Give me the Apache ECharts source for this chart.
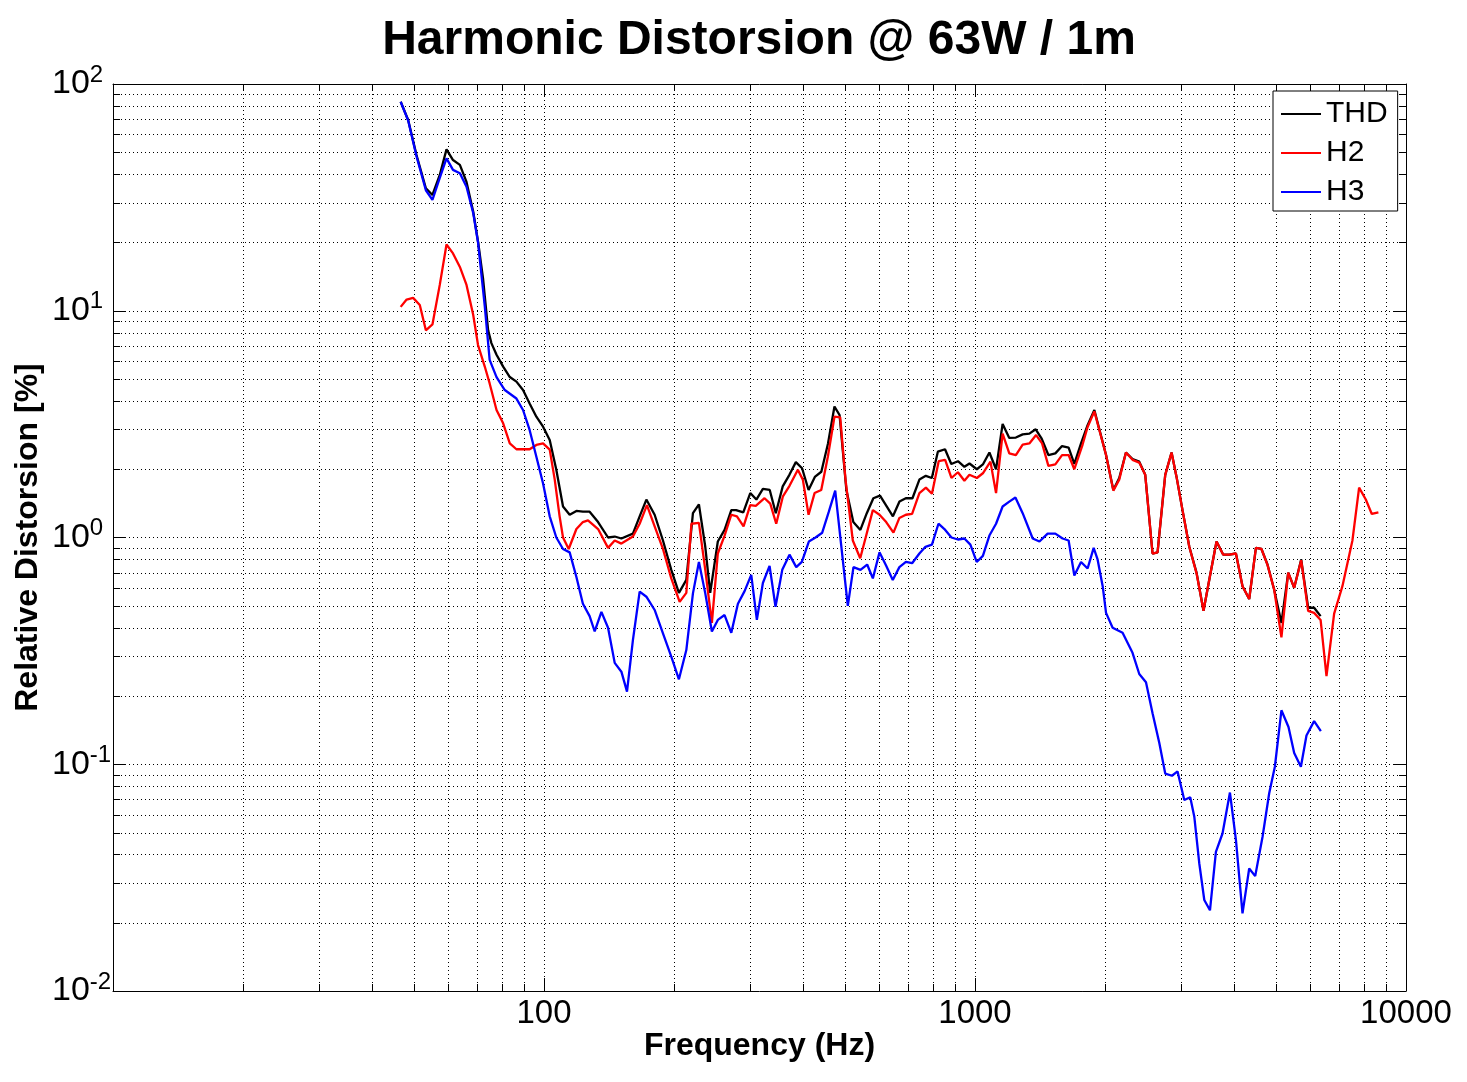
<!DOCTYPE html>
<html><head><meta charset="utf-8">
<script src="https://cdn.jsdelivr.net/npm/echarts@6/dist/echarts.min.js"></script>
<style>html,body{margin:0;padding:0;background:#fff}#c{width:1467px;height:1082px}</style>
</head><body><div id="c"></div>
<script>
const FONT = "'Liberation Sans', Arial, Helvetica, sans-serif";

const thd = [[46.5,83.5],[48.4,69.4],[50.6,48.6],[53.2,34.7],[55.1,32.4],[57.3,39.7],[59.4,51.5],[61.5,46.2],[63.8,44],[66.1,37],[68.5,27.4],[70.3,20.2],[72.2,13.9],[74.2,8.2],[75.5,7.2],[77.6,6.4],[80.4,5.67],[83.3,5.1],[86.3,4.87],[89.4,4.47],[92.6,3.9],[96.0,3.41],[99.5,3.08],[103.1,2.69],[106.8,1.99],[110.7,1.37],[114.7,1.26],[118.9,1.31],[123.1,1.3],[127.6,1.3],[133.5,1.17],[140.8,1.0],[145.9,1.01],[151.2,0.99],[160.8,1.04],[166.7,1.24],[172.8,1.47],[180.6,1.26],[188.8,0.97],[197.4,0.72],[205.6,0.57],[213.9,0.65],[221.6,1.28],[228.8,1.4],[236.7,0.91],[243,0.57],[253.1,0.96],[262.4,1.08],[272,1.32],[279,1.32],[290,1.29],[301,1.57],[311,1.47],[322,1.64],[334,1.62],[345,1.28],[358,1.68],[371,1.89],[384,2.15],[397,2.02],[411,1.62],[425,1.85],[440,1.95],[456,2.6],[472,3.78],[485,3.47],[503,1.62],[522,1.17],[542,1.08],[561,1.28],[581,1.49],[602,1.53],[645,1.24],[668,1.44],[691,1.49],[716,1.49],[743,1.8],[769,1.87],[794,1.83],[820,2.39],[852,2.45],[881,2.11],[913,2.17],[945,2.05],[971,2.12],[1010,2.0],[1043,2.1],[1080,2.37],[1119,2.0],[1159,3.17],[1201,2.75],[1244,2.76],[1290,2.85],[1337,2.87],[1383,3.0],[1428,2.73],[1480,2.31],[1536,2.35],[1592,2.53],[1649,2.49],[1700,2.11],[1762,2.6],[1825,3.13],[1892,3.65],[1943,3.0],[2014,2.31],[2094,1.62],[2161,1.83],[2240,2.37],[2320,2.22],[2405,2.16],[2483,1.89],[2582,0.85],[2652,0.86],[2763,1.89],[2858,2.37],[2935,1.85],[3030,1.32],[3142,0.91],[3266,0.7],[3390,0.475],[3495,0.65],[3634,0.96],[3767,0.84],[3890,0.84],[4031,0.85],[4175,0.61],[4327,0.535],[4485,0.9],[4620,0.89],[4771,0.76],[4944,0.59],[5140,0.42],[5330,0.7],[5503,0.6],[5712,0.8],[5929,0.49],[6121,0.49],[6337,0.45]];

const h2 = [[46.5,10.4],[48.0,11.2],[49.7,11.4],[51.5,10.6],[53.2,8.2],[55.1,8.7],[57.3,13],[59.4,19.6],[61.5,17.9],[63.8,15.6],[66.1,13],[68.5,9.6],[70.3,7.06],[72.9,5.66],[74.8,4.78],[77.6,3.65],[80.4,3.19],[83.3,2.6],[86.3,2.45],[89.4,2.45],[92.6,2.45],[96,2.56],[99.5,2.6],[103.1,2.44],[105.9,1.8],[108.7,1.24],[110.7,1.0],[114.1,0.89],[118.9,1.09],[123.1,1.17],[126.5,1.19],[133.5,1.09],[140.8,0.9],[145.9,0.97],[151.2,0.94],[160.8,1.01],[166.7,1.15],[173.3,1.39],[180.6,1.12],[188.8,0.89],[197.4,0.66],[206.4,0.52],[213.9,0.57],[219.8,1.15],[228.8,1.16],[236.7,0.72],[245.2,0.42],[253.1,0.85],[262.4,1.02],[272,1.26],[280.3,1.24],[290.4,1.12],[301,1.39],[310,1.38],[324.9,1.49],[334.9,1.41],[345.8,1.15],[358.4,1.52],[371.2,1.69],[388.1,1.99],[398.6,1.8],[411,1.26],[424.4,1.57],[439.8,1.62],[455.6,2.27],[472,3.41],[486.7,3.39],[500.7,1.8],[520.6,0.97],[541.6,0.81],[559.2,1.02],[579.4,1.32],[600.4,1.26],[622.2,1.17],[646.9,1.05],[667.7,1.22],[691.3,1.26],[714.6,1.27],[743,1.57],[769.3,1.66],[794.5,1.56],[823.7,2.17],[852.6,2.2],[881.7,1.83],[912.8,1.94],[944.9,1.78],[970.7,1.89],[1010,1.83],[1043,1.92],[1086,2.16],[1119,1.57],[1159,2.87],[1201,2.35],[1244,2.31],[1290,2.57],[1337,2.6],[1386,2.83],[1431,2.6],[1480,2.07],[1536,2.1],[1592,2.31],[1649,2.31],[1700,2.0],[1777,2.57],[1825,3.07],[1892,3.6],[1943,2.98],[2014,2.31],[2094,1.61],[2161,1.8],[2240,2.37],[2320,2.2],[2405,2.14],[2483,1.89],[2582,0.85],[2652,0.86],[2763,1.89],[2858,2.37],[2935,1.85],[3030,1.32],[3142,0.91],[3266,0.695],[3390,0.475],[3495,0.65],[3634,0.96],[3767,0.84],[3890,0.84],[4031,0.85],[4175,0.61],[4327,0.535],[4485,0.9],[4620,0.89],[4771,0.757],[4944,0.59],[5140,0.363],[5330,0.7],[5503,0.6],[5712,0.794],[5929,0.475],[6121,0.465],[6337,0.433],[6539,0.245],[6812,0.462],[7120,0.61],[7511,0.97],[7784,1.66],[8067,1.47],[8330,1.27],[8629,1.29]];

const h3 = [[46.5,83.5],[48.4,69],[50.6,48],[53.2,34],[55.1,30.8],[57.3,38.5],[59.4,47],[61.5,41.8],[63.8,40.4],[66.1,35.2],[68.5,27],[70.3,20],[72.9,10.4],[74.8,6.07],[77.6,5.1],[81.1,4.47],[86.3,4.1],[89.4,3.65],[92.6,2.98],[96,2.27],[99.5,1.73],[103.1,1.24],[106.8,1.0],[110.7,0.89],[114.7,0.86],[118.9,0.67],[123.1,0.51],[127.6,0.45],[131.1,0.385],[135.9,0.47],[140.8,0.40],[145.9,0.28],[151.2,0.256],[155.8,0.209],[160.8,0.353],[166.7,0.577],[172.8,0.548],[180.6,0.479],[188.8,0.378],[197.4,0.298],[205.6,0.237],[213.9,0.319],[221.6,0.567],[228.8,0.78],[236.7,0.567],[245.2,0.385],[253.1,0.433],[262.4,0.455],[272,0.38],[281.8,0.51],[292,0.58],[302.6,0.684],[311.8,0.433],[322,0.63],[333.7,0.75],[344.5,0.495],[357.1,0.72],[371.2,0.84],[384.8,0.74],[396.5,0.78],[411.6,0.96],[426.6,1.0],[442.1,1.05],[458,1.3],[473.9,1.61],[506.9,0.5],[522.4,0.74],[542.4,0.72],[562.1,0.76],[579.4,0.66],[600.4,0.86],[622.2,0.75],[644.4,0.65],[667.7,0.74],[691.3,0.78],[714.6,0.77],[743,0.85],[767.4,0.91],[794.5,0.93],[822.6,1.15],[849.3,1.09],[881.7,1.0],[912.8,0.98],[944.9,0.99],[975.6,0.93],[1009,0.78],[1043,0.83],[1080,1.02],[1119,1.15],[1159,1.37],[1201,1.44],[1241,1.5],[1290,1.28],[1361,0.99],[1411,0.96],[1474,1.04],[1536,1.04],[1597,0.99],[1649,0.97],[1700,0.68],[1762,0.78],[1825,0.73],[1885,0.9],[1925,0.8],[1978,0.61],[2014,0.465],[2086,0.40],[2200,0.38],[2320,0.31],[2405,0.25],[2493,0.23],[2582,0.168],[2677,0.124],[2763,0.091],[2864,0.089],[2951,0.093],[3059,0.0695],[3158,0.0715],[3227,0.0587],[3314,0.0366],[3404,0.0252],[3509,0.0227],[3622,0.0411],[3752,0.0495],[3904,0.075],[4031,0.0464],[4175,0.022],[4327,0.0347],[4468,0.0321],[4647,0.0479],[4815,0.0745],[4963,0.0975],[5140,0.173],[5338,0.146],[5503,0.112],[5703,0.0975],[5876,0.134],[6121,0.155],[6345,0.14]];

const xRange = [10, 10000];
const yRange = [0.01, 100];
const xTickLabels = [[100, '100'], [1000, '1000'], [10000, '10000']];
const yTickLabels = [[0.01, '-2'], [0.1, '-1'], [1, '0'], [10, '1'], [100, '2']];
const xMinorTicks = [20,30,40,50,60,70,80,90,200,300,400,500,600,700,800,900,2000,3000,4000,5000,6000,7000,8000,9000];
const yMinorTicks = [0.02,0.03,0.04,0.05,0.06,0.07,0.08,0.09,0.2,0.3,0.4,0.5,0.6,0.7,0.8,0.9,2,3,4,5,6,7,8,9,20,30,40,50,60,70,80,90];

const MINOR_LEN = 7, MAJOR_LEN = 13, DOT = [1, 3];

function findLabel(list, v) {
  for (const [k, s] of list) if (Math.abs(Math.log10(k) - Math.log10(v)) < 1e-6) return s;
  return null;
}

function minorRender(vertical) {
  return function (params, api) {
    const line = (x1, y1, x2, y2, dash) => ({
      type: 'line', silent: true,
      shape: { x1, y1, x2, y2 },
      style: { stroke: '#000', lineWidth: 1, lineDash: dash || null }
    });
    if (vertical) {
      const v = api.value(0);
      const pb = api.coord([v, yRange[0]]), pt = api.coord([v, yRange[1]]);
      const x = Math.round(pb[0]) + 0.5;
      return { type: 'group', children: [
        line(x, pb[1], x, pt[1], DOT),
        line(x, pb[1], x, pb[1] - MINOR_LEN),
        line(x, pt[1], x, pt[1] + MINOR_LEN)
      ]};
    } else {
      const v = api.value(1);
      const pl = api.coord([xRange[0], v]), pr = api.coord([xRange[1], v]);
      const y = Math.round(pl[1]) + 0.5;
      return { type: 'group', children: [
        line(pl[0], y, pr[0], y, DOT),
        line(pl[0], y, pl[0] + MINOR_LEN, y),
        line(pr[0], y, pr[0] - MINOR_LEN, y)
      ]};
    }
  };
}

const chart = echarts.init(document.getElementById('c'), null, { renderer: 'canvas' });

const baseX = {
  type: 'log', logBase: 10, min: xRange[0], max: xRange[1],
  axisLine: { show: true, onZero: false, lineStyle: { color: '#000', width: 1 } },
  axisTick: { show: true, inside: true, length: MAJOR_LEN, lineStyle: { color: '#000', width: 1 } },
  minorTick: { show: false }, minorSplitLine: { show: false }
};
const baseY = {
  type: 'log', logBase: 10, min: yRange[0], max: yRange[1],
  axisLine: { show: true, onZero: false, lineStyle: { color: '#000', width: 1 } },
  axisTick: { show: true, inside: true, length: MAJOR_LEN, lineStyle: { color: '#000', width: 1 } },
  minorTick: { show: false }, minorSplitLine: { show: false }
};

const option = {
  animation: false,
  backgroundColor: '#fff',
  textStyle: { fontFamily: FONT },
  title: {
    text: 'Harmonic Distorsion @ 63W / 1m',
    left: 754, top: 12, textAlign: 'center',
    textStyle: { fontFamily: FONT, fontSize: 48, fontWeight: 'bold', color: '#000' }
  },
  grid: { left: 113, right: 61, top: 84, bottom: 91, containLabel: false, outerBoundsMode: 'none' },
  legend: {
    orient: 'vertical', left: 1273, top: 91,
    data: ['THD', 'H2', 'H3'],
    icon: 'rect', itemWidth: 40, itemHeight: 2, itemGap: 9,
    padding: [8, 10, 4, 8],
    backgroundColor: '#fff', borderColor: '#000', borderWidth: 1, borderRadius: 0,
    textStyle: { fontFamily: FONT, fontSize: 30, color: '#000', lineHeight: 30 },
    selectedMode: false
  },
  xAxis: [
    Object.assign({}, baseX, {
      position: 'bottom',
      name: 'Frequency (Hz)', nameLocation: 'middle', nameGap: 39, nameMoveOverlap: false,
      nameTextStyle: { fontFamily: FONT, fontSize: 32, fontWeight: 'bold', color: '#000' },
      axisLabel: {
        show: true, margin: 6, color: '#000', fontFamily: FONT, fontSize: 33,
        formatter: v => findLabel(xTickLabels, v) || ''
      },
      splitLine: { show: true, lineStyle: { color: '#000', width: 1, type: DOT } }
    }),
    Object.assign({}, baseX, { position: 'top', axisLabel: { show: false }, splitLine: { show: false } })
  ],
  yAxis: [
    Object.assign({}, baseY, {
      position: 'left',
      name: 'Relative Distorsion [%]', nameLocation: 'middle', nameGap: 69, nameRotate: 90, nameMoveOverlap: false,
      nameTextStyle: { fontFamily: FONT, fontSize: 32, fontWeight: 'bold', color: '#000' },
      axisLabel: {
        show: true, margin: 61, align: 'left', color: '#000',
        formatter: v => { const e = findLabel(yTickLabels, v); return e === null ? '' : '{b|10}{s|' + e + '}'; },
        rich: {
          b: { fontFamily: FONT, fontSize: 34, color: '#000' },
          s: { fontFamily: FONT, fontSize: 24, color: '#000', padding: [0, 0, 18, 0] }
        }
      },
      splitLine: { show: true, lineStyle: { color: '#000', width: 1, type: DOT } }
    }),
    Object.assign({}, baseY, { position: 'right', axisLabel: { show: false }, splitLine: { show: false } })
  ],
  series: [
    { type: 'custom', silent: true, z: 1, clip: false, xAxisIndex: 0, yAxisIndex: 0,
      renderItem: minorRender(true), data: xMinorTicks.map(v => [v, 1]) },
    { type: 'custom', silent: true, z: 1, clip: false, xAxisIndex: 0, yAxisIndex: 0,
      renderItem: minorRender(false), data: yMinorTicks.map(v => [100, v]) },
    { type: 'line', name: 'THD', data: thd, symbol: 'none', z: 3,
      lineStyle: { color: '#000', width: 2.3 }, itemStyle: { color: '#000' } },
    { type: 'line', name: 'H2', data: h2, symbol: 'none', z: 4,
      lineStyle: { color: '#ff0000', width: 2.3 }, itemStyle: { color: '#ff0000' } },
    { type: 'line', name: 'H3', data: h3, symbol: 'none', z: 5,
      lineStyle: { color: '#0000ff', width: 2.3 }, itemStyle: { color: '#0000ff' } }
  ]
};
chart.setOption(option);
</script>
</body></html>
